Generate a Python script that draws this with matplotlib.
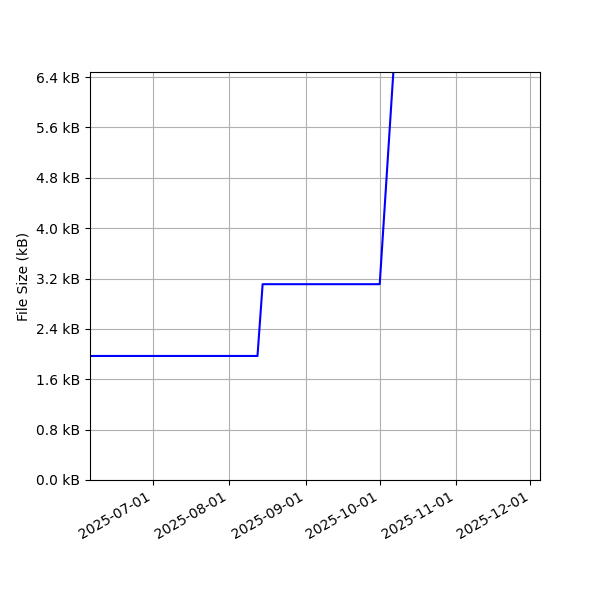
import matplotlib
matplotlib.use("Agg")
import matplotlib.pyplot as plt
import matplotlib.dates as mdates
import pandas as pd

# file size history (kB)
dates = ["2025-06-05 16:00", "2025-08-12 12:00", "2025-08-14 14:00", "2025-10-01 00:00", "2025-10-10 00:00", "2025-12-05 00:00"]
sizes = [1.97, 1.97, 3.11, 3.11, 8.6, 8.6]
x_range = ["2025-06-05 16:00", "2025-12-04 22:00"]
y_ticks = [0.0, 0.8, 1.6, 2.4, 3.2, 4.0, 4.8, 5.6, 6.4]
y_top = 6.48

dates = pd.to_datetime(dates, format="%Y-%m-%d %H:%M")

fig, ax = plt.subplots(figsize=(6, 6), dpi=100)

ax.plot(dates, sizes, color="blue")
ax.set_xlim(pd.to_datetime(x_range[0]), pd.to_datetime(x_range[1]))
ax.set_ylim(0, y_top)
ax.set_yticks(y_ticks)
ax.yaxis.set_major_formatter(plt.FuncFormatter(lambda v, p: f"{v:.1f} kB"))
ax.xaxis.set_major_locator(mdates.MonthLocator())
ax.xaxis.set_major_formatter(mdates.DateFormatter("%Y-%m-%d"))
ax.set_ylabel("File Size (kB)")
ax.grid(True)
fig.autofmt_xdate()
fig.subplots_adjust(left=0.15, right=0.9, top=0.88, bottom=0.2)

fig.savefig("out.png")
